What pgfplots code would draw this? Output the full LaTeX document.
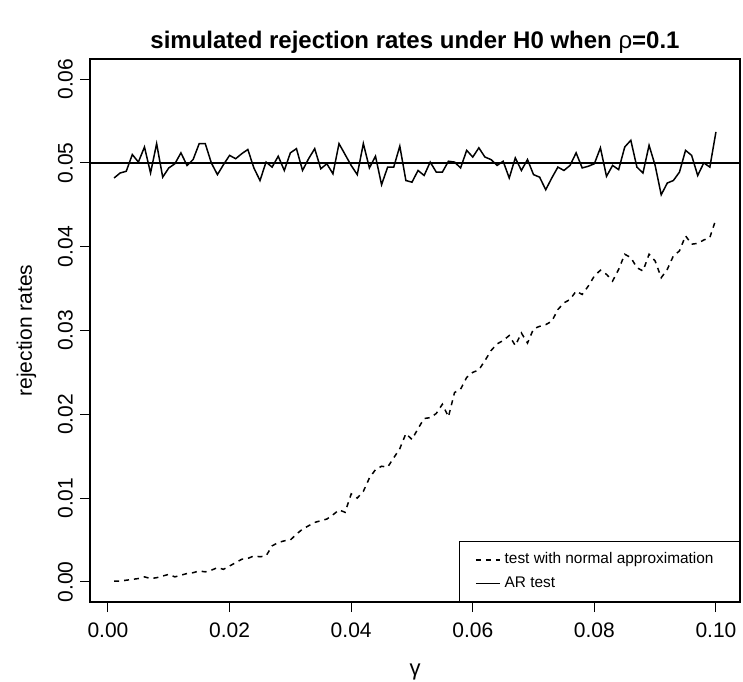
\documentclass[border=0pt]{standalone}
\usepackage{fontspec}
\setmainfont{Liberation Sans}
\usepackage{pgfplots}
\usepackage{pgfplotstable}
\pgfplotsset{compat=1.18}

% gamma, AR test rate, normal-approximation test rate
\pgfplotstableread{
g ar na
0.001 0.0482 0.0001
0.002 0.0488 0.0001
0.003 0.0490 0.0002
0.004 0.0510 0.0003
0.005 0.0501 0.0004
0.006 0.0519 0.0006
0.007 0.0488 0.0004
0.008 0.0523 0.0005
0.009 0.0483 0.0007
0.010 0.0494 0.0009
0.011 0.0499 0.0006
0.012 0.0512 0.0008
0.013 0.0497 0.0010
0.014 0.0504 0.0011
0.015 0.0523 0.0013
0.016 0.0523 0.0012
0.017 0.0500 0.0014
0.018 0.0486 0.0017
0.019 0.0498 0.0015
0.020 0.0509 0.0019
0.021 0.0505 0.0023
0.022 0.0511 0.0027
0.023 0.0516 0.0028
0.024 0.0494 0.0031
0.025 0.0479 0.0030
0.026 0.0501 0.0031
0.027 0.0495 0.0043
0.028 0.0508 0.0047
0.029 0.0491 0.0049
0.030 0.0512 0.0050
0.031 0.0517 0.0057
0.032 0.0491 0.0063
0.033 0.0505 0.0067
0.034 0.0517 0.0071
0.035 0.0493 0.0073
0.036 0.0499 0.0075
0.037 0.0487 0.0080
0.038 0.0523 0.0086
0.039 0.0510 0.0083
0.040 0.0497 0.0105
0.041 0.0486 0.0100
0.042 0.0523 0.0108
0.043 0.0494 0.0124
0.044 0.0508 0.0134
0.045 0.0474 0.0138
0.046 0.0495 0.0137
0.047 0.0495 0.0148
0.048 0.0520 0.0159
0.049 0.0479 0.0177
0.050 0.0477 0.0170
0.051 0.0491 0.0183
0.052 0.0485 0.0195
0.053 0.0501 0.0196
0.054 0.0489 0.0201
0.055 0.0489 0.0212
0.056 0.0502 0.0197
0.057 0.0501 0.0226
0.058 0.0494 0.0230
0.059 0.0515 0.0244
0.060 0.0507 0.0250
0.061 0.0518 0.0253
0.062 0.0507 0.0264
0.063 0.0504 0.0276
0.064 0.0497 0.0284
0.065 0.0502 0.0288
0.066 0.0482 0.0294
0.067 0.0506 0.0282
0.068 0.0491 0.0297
0.069 0.0504 0.0285
0.070 0.0486 0.0302
0.071 0.0483 0.0305
0.072 0.0468 0.0307
0.073 0.0482 0.0311
0.074 0.0495 0.0325
0.075 0.0491 0.0333
0.076 0.0497 0.0337
0.077 0.0512 0.0347
0.078 0.0494 0.0343
0.079 0.0496 0.0353
0.080 0.0499 0.0365
0.081 0.0518 0.0372
0.082 0.0484 0.0367
0.083 0.0497 0.0359
0.084 0.0492 0.0373
0.085 0.0519 0.0391
0.086 0.0527 0.0387
0.087 0.0495 0.0375
0.088 0.0488 0.0371
0.089 0.0521 0.0391
0.090 0.0497 0.0383
0.091 0.0462 0.0363
0.092 0.0476 0.0373
0.093 0.0479 0.0389
0.094 0.0489 0.0395
0.095 0.0515 0.0413
0.096 0.0509 0.0403
0.097 0.0485 0.0404
0.098 0.0500 0.0408
0.099 0.0495 0.0411
0.100 0.0537 0.0433
}\rates

\begin{document}
\begin{tikzpicture}
\path[use as bounding box] (0,0) rectangle (371.5pt,340.5pt);
\begin{axis}[
  at={(45pt,39.5pt)}, anchor=south west,
  width=325pt, height=271.5pt, scale only axis,
  xmin=-0.00296, xmax=0.10396,
  ymin=-0.0024, ymax=0.0624,
  scaled x ticks=false, scaled y ticks=false,
  xtick={0,0.02,0.04,0.06,0.08,0.1},
  xticklabels={0.00,0.02,0.04,0.06,0.08,0.10},
  ytick={0,0.01,0.02,0.03,0.04,0.05,0.06},
  yticklabels={0.00,0.01,0.02,0.03,0.04,0.05,0.06},
  xtick pos=bottom, ytick pos=left,
  tick align=outside,
  major tick length=5pt,
  tick style={black, line width=0.5pt},
  axis line style={line width=0.6pt},
  /pgf/number format/assume math mode=true,
  tick label style={font=\fontsize{10.5}{12}\selectfont},
  yticklabel style={rotate=90, anchor=south},
  xticklabel style={yshift=-2pt},
  xlabel={γ},
  ylabel={rejection rates},
  xlabel style={font=\fontsize{11}{12}\selectfont, yshift=-6pt},
  ylabel style={font=\fontsize{10.5}{12}\selectfont, yshift=4pt},
  title={\textbf{simulated rejection rates under H0 when }ρ\textbf{=0.1}},
  title style={font=\fontsize{12}{14}\selectfont, yshift=-7pt},
  legend style={at={(1,0)}, anchor=south east, draw=black, line width=0.5pt,
    font=\fontsize{7.7}{9.5}\selectfont, inner xsep=8pt, inner ysep=3.5pt,
    row sep=1pt, cells={anchor=west}},
  legend cell align=left,
  legend image code/.code={\draw[#1] (0pt,0pt) -- (12pt,0pt);},
]
\addplot[black, line width=0.75pt, dash pattern=on 2.5pt off 2.5pt] table[x=g, y=na] {\rates};
\addlegendentry{test with normal approximation\hspace*{3pt}}
\addplot[black, line width=0.75pt] table[x=g, y=ar] {\rates};
\addlegendentry{AR test}
\addplot[black, line width=0.75pt, forget plot] coordinates {(-0.00296,0.05) (0.10396,0.05)};
\end{axis}
\end{tikzpicture}
\end{document}
